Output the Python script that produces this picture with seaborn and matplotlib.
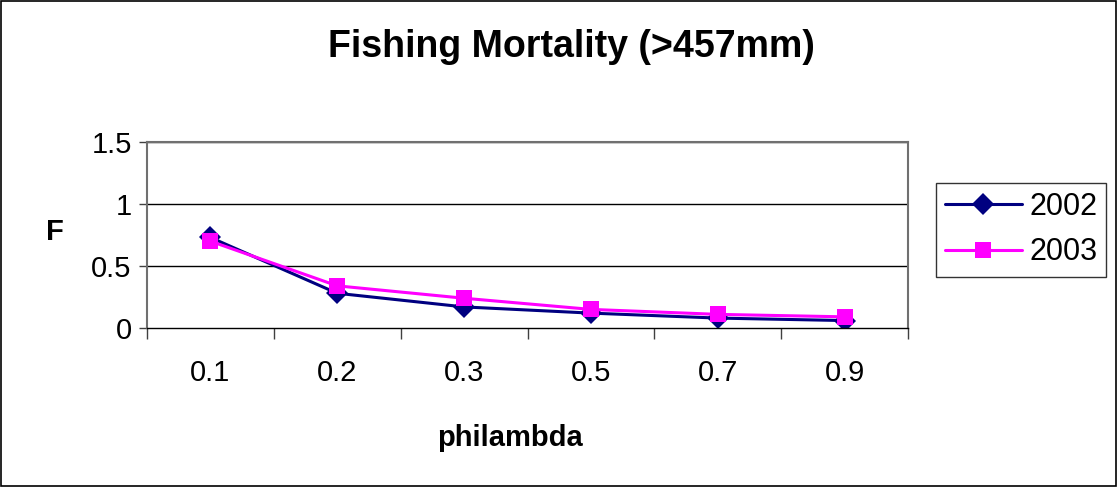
import matplotlib
matplotlib.use("Agg")
import matplotlib.pyplot as plt
import seaborn as sns
import pandas as pd
import numpy as np

categories = ["0.1", "0.2", "0.3", "0.5", "0.7", "0.9"]
f_2002 = [0.73, 0.28, 0.17, 0.12, 0.08, 0.06]
f_2003 = [0.70, 0.34, 0.24, 0.15, 0.11, 0.09]
series_names = ["2002", "2003"]
yticks = [0, 0.5, 1, 1.5]
ytick_labels = ["0", "0.5", "1", "1.5"]

sns.set_style("white")
plt.rcParams['font.family'] = ['Liberation Sans', 'DejaVu Sans']
plt.rcParams['text.color'] = 'black'
plt.rcParams['axes.labelcolor'] = 'black'
plt.rcParams['xtick.color'] = 'black'
plt.rcParams['ytick.color'] = 'black'

df = pd.DataFrame({
    "philambda": categories * 2,
    "F": f_2002 + f_2003,
    "year": [series_names[0]] * len(categories) + [series_names[1]] * len(categories),
})

W, H = 1118, 487
fig = plt.figure(figsize=(W / 100, H / 100), dpi=100)
ax = fig.add_axes([147 / W, 1 - 328 / H, (908 - 147) / W, (328 - 142) / H])

palette = {"2002": "#000080", "2003": "#FF00FF"}
markers = {"2002": "D", "2003": "s"}
sns.lineplot(data=df, x="philambda", y="F", hue="year", style="year",
             palette=palette, markers=markers, dashes=False, markersize=11,
             linewidth=2.2, markeredgewidth=0, ax=ax, sort=False)

ax.set_xlim(-0.5, len(categories) - 0.5)
ax.set_ylim(0, 1.5)
ax.set_yticks(yticks)
ax.set_yticklabels(ytick_labels, fontsize=21)
ax.set_xticks(range(len(categories)))
ax.set_xticklabels(categories, fontsize=21)
ax.set_xticks(np.arange(-0.5, len(categories), 1), minor=True)
ax.tick_params(axis="x", which="major", bottom=True, length=0, pad=22)
ax.tick_params(axis="x", which="minor", bottom=True, length=8, width=1, color="#404040", direction="out")
ax.tick_params(axis="y", which="major", left=True, length=6, width=1, color="#404040", direction="out", pad=5)

for y in yticks[1:]:
    ax.axhline(y, color="black", linewidth=1, zorder=0)

for side in ["top", "right", "left"]:
    ax.spines[side].set_color("#707070")
    ax.spines[side].set_linewidth(1.5)
ax.spines["bottom"].set_color("black")
ax.spines["bottom"].set_linewidth(1)

ax.set_xlabel("")
ax.set_ylabel("")
fig.text(510 / W, 1 - 438 / H, "philambda", fontsize=21, fontweight="bold",
         ha="center", va="center")
fig.text(55 / W, 1 - 232 / H, "F", fontsize=21, fontweight="bold",
         ha="center", va="center")

fig.text(571 / W, 1 - 47 / H, "Fishing Mortality (>457mm)", fontsize=27,
         fontweight="bold", ha="center", va="center")

leg = ax.legend(loc="upper left", bbox_to_anchor=(936 / W, 1 - 183 / H),
                bbox_transform=fig.transFigure, fontsize=22, frameon=True,
                fancybox=False, edgecolor="black", handlelength=2.5,
                handletextpad=0.25, borderpad=0.3, labelspacing=0.5,
                borderaxespad=0, title=None)
leg.get_frame().set_linewidth(1)

border = plt.Rectangle((0.001, 0.002), 0.997, 0.996, transform=fig.transFigure,
                       fill=False, edgecolor="black", linewidth=1.2)
fig.patches.append(border)

fig.savefig("out.png", dpi=100)
